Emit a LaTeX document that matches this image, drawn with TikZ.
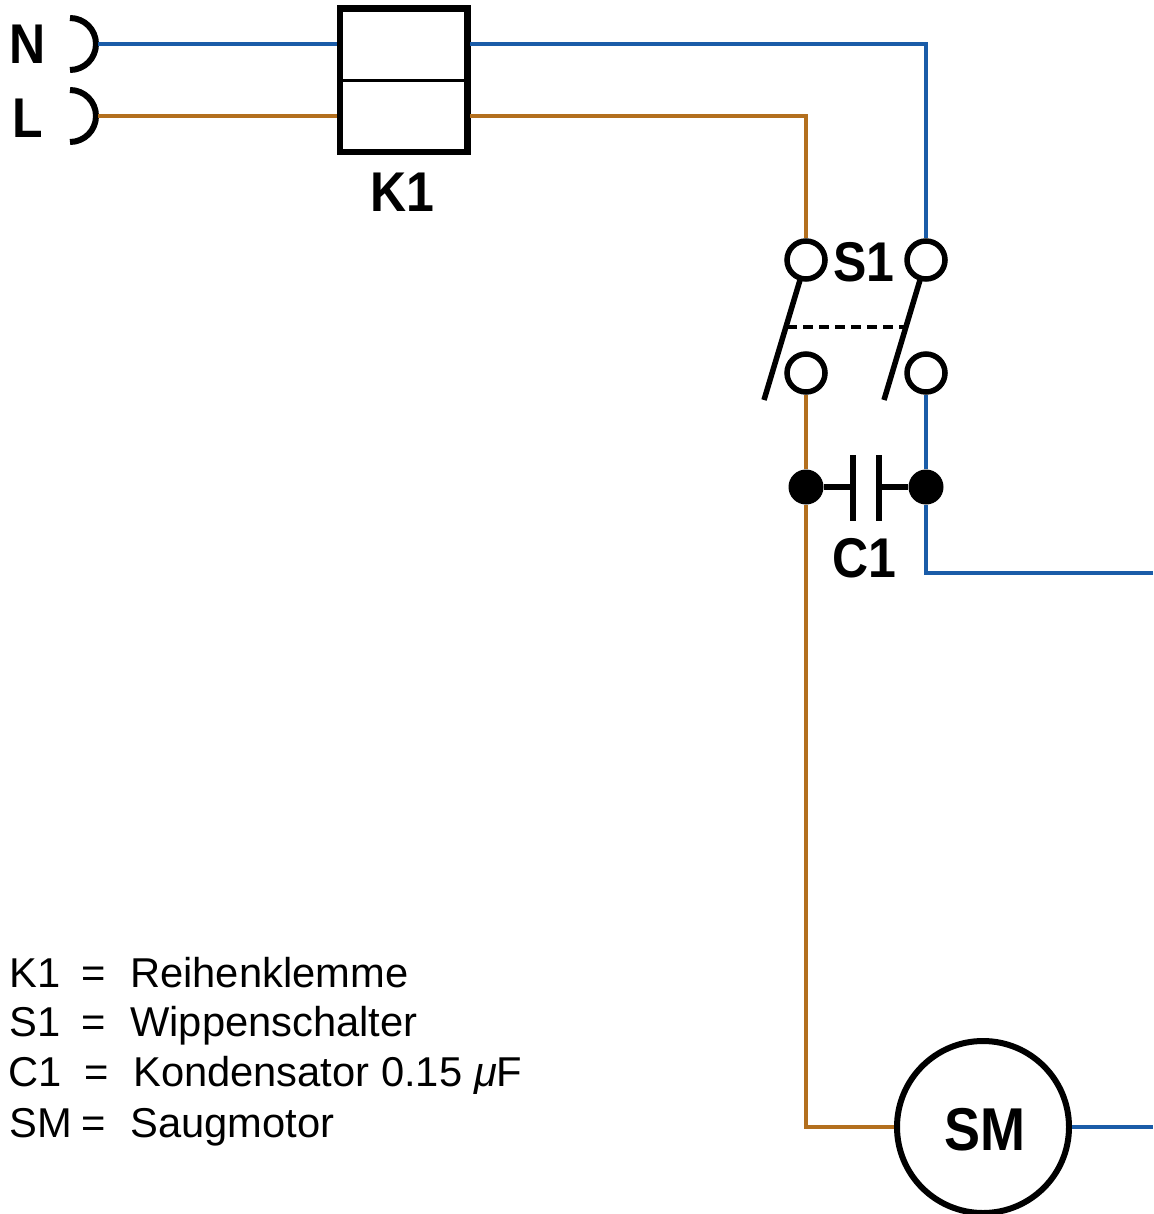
\documentclass[tikz,border=0pt]{standalone}
\usepackage{fontspec}
\setmainfont{Liberation Sans}
\usepackage{xcolor}
\usetikzlibrary{positioning}
\definecolor{wireblue}{HTML}{1A5CA8}
\definecolor{wirebrown}{HTML}{B36F1E}
\newcommand{\labelfont}{\fontsize{50}{50}\selectfont\bfseries}
\newcommand{\legendfont}{\fontsize{41.7}{42}\selectfont}
\tikzstyle{wireN} = [wireblue,line width=3.2pt]
\tikzstyle{wireL} = [wirebrown,line width=3.2pt]
\tikzstyle{terminal} = [circle,draw,fill=white,line width=5.5pt,minimum size=38pt,inner sep=0pt]
\tikzstyle{junction} = [circle,fill=black,minimum size=35pt,inner sep=0pt]
\tikzstyle{contact} = [line width=5.5pt]
\tikzstyle{socket} = [line width=6pt]
\tikzstyle{plate} = [line width=6.5pt]
\tikzstyle{tag} = [inner sep=0pt,font=\labelfont,yscale=1.12,transform shape]
\tikzstyle{legend} = [inner sep=0pt,anchor=base west,font=\legendfont]

\begin{document}
\begin{tikzpicture}[x=1pt,y=-1pt]
    \useasboundingbox (0,0) rectangle (1153,1214);

    % mains side
    \node[tag] (n) at (28,44) {N};
    \node[tag] (l) at (28,118) {L};
    \coordinate (sockn) at (98,44);
    \coordinate (sockl) at (98,116);
    \draw[socket] (70,18) arc[start angle=90,end angle=-90,radius=26pt];
    \draw[socket] (70,90) arc[start angle=90,end angle=-90,radius=26pt];

    % terminal block
    \node[draw,line width=6.5pt,minimum width=127.5pt,minimum height=143.5pt,inner sep=0pt,outer sep=0pt] (k1) at (403.5,80.5) {};
    \node[tag] (k1label) at (402,192) {K1};
    \coordinate (k1nw) at (337,44);
    \coordinate (k1ne) at (470,44);
    \coordinate (k1lw) at (337,116);
    \coordinate (k1le) at (470,116);
    \draw[line width=3.5pt] (k1.west) -- (k1.east);

    % switch
    \node[terminal] (s1la) at (806,260) {};
    \node[terminal] (s1na) at (926,260) {};
    \node[terminal] (s1lb) at (806,373) {};
    \node[terminal] (s1nb) at (926,373) {};
    \node[tag] (s1label) at (864,262) {S1};
    \coordinate (s1lfree) at (764,400);
    \coordinate (s1nfree) at (884,400);
    \coordinate (s1ltop) at (800,280);
    \coordinate (s1ntop) at (920,280);
    \coordinate (linkl) at (787,327);
    \coordinate (linkn) at (904,327);
    \draw[contact] (s1ltop) -- (s1lfree);
    \draw[contact] (s1ntop) -- (s1nfree);
    \draw[line width=3.2pt,dash pattern=on 10pt off 6pt] (linkl) -- (linkn);

    % capacitor
    \node[junction] (c1l) at (806,487) {};
    \node[junction] (c1n) at (926,487) {};
    \node[tag] (c1label) at (864,558) {C1};
    \coordinate (platelt) at (853,455);
    \coordinate (platelb) at (853,521);
    \coordinate (platent) at (879,455);
    \coordinate (platenb) at (879,521);
    \draw[plate] (platelt) -- (platelb);
    \draw[plate] (platent) -- (platenb);
    \draw[socket] (c1l) -- (c1l-|platelt);
    \draw[socket] (c1n) -- (c1n-|platent);

    % motor
    \node[circle,draw,line width=6pt,minimum size=172pt,inner sep=0pt] (sm) at (983,1127) {};
    \node[tag,font=\fontsize{54}{54}\selectfont\bfseries] (smlabel) at (985,1130) {SM};
    \coordinate (outn) at (1153,573);
    \coordinate (outm) at (1153,1127);

    % wiring
    \draw[wireN] (sockn) -- (k1nw);
    \draw[wireL] (sockl) -- (k1lw);
    \draw[wireN] (k1ne) -| (s1na);
    \draw[wireL] (k1le) -| (s1la);
    \draw[wireN] (s1nb) -- (c1n);
    \draw[wireL] (s1lb) -- (c1l);
    \draw[wireN] (c1n) |- (outn);
    \draw[wireL] (c1l) |- (sm);
    \draw[wireN] (sm) -- (outm);

    % legend
    \node[legend] (lk1) at (9,987) {K1};
    \node[legend] (le1) at (81,987) {=};
    \node[legend] (lt1) at (130,987) {Reihenklemme};
    \node[legend] (lk2) at (9,1036) {S1};
    \node[legend] (le2) at (81,1036) {=};
    \node[legend] (lt2) at (130,1036) {Wippenschalter};
    \node[legend] (lk3) at (8,1086) {C1};
    \node[legend] (le3) at (84,1086) {=};
    \node[legend] (lt3) at (133,1086) {Kondensator 0.15 {\itshape μ}F};
    \node[legend] (lk4) at (9,1137) {SM};
    \node[legend] (le4) at (81,1137) {=};
    \node[legend] (lt4) at (130,1137) {Saugmotor};
\end{tikzpicture}
\end{document}
